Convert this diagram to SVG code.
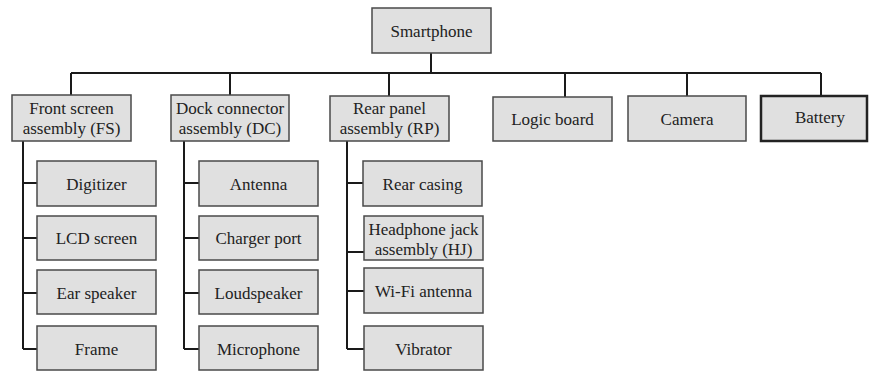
<svg xmlns="http://www.w3.org/2000/svg" width="869" height="371" viewBox="0 0 869 371">
<style>
.box{fill:#e0e0e0;stroke:#4a4a4a;stroke-width:1.5}
.thick{stroke:#222;stroke-width:2.5}
.t{font-family:'Liberation Serif','DejaVu Serif',serif;font-size:17px;fill:#222;text-anchor:middle}
.c{stroke:#1a1a1a;stroke-width:2;fill:none}
</style>
<rect width="869" height="371" fill="#fff"/>
<g id="connectors">
<path class="c" d="M431 53V73M71 73H821M71 73V95M230 73V95M389 73V96M565 73V97M687 73V96M821 73V96"/>
<path class="c" d="M23 141V349M23 183H37M23 238H37M23 293H37M23 349H37"/>
<path class="c" d="M184 141V349M184 183H199M184 238H199M184 293H199M184 349H199"/>
<path class="c" d="M347 141V349M347 183H363M347 252H364M347 291H364M347 349H364"/>
</g>
<g id="smartphone"><rect class="box" x="372" y="8" width="119" height="45"/><text class="t" x="431.5" y="36.5" font-family="Liberation Serif, serif">Smartphone</text></g>
<g id="fs"><rect class="box" x="12" y="95" width="119" height="46"/><text class="t" x="71.5" y="114">Front screen</text><text class="t" x="71.5" y="134">assembly (FS)</text></g>
<g id="dc"><rect class="box" x="171" y="95" width="118" height="46"/><text class="t" x="230" y="114">Dock connector</text><text class="t" x="230" y="134">assembly (DC)</text></g>
<g id="rp"><rect class="box" x="330" y="96" width="119" height="45"/><text class="t" x="389.5" y="114">Rear panel</text><text class="t" x="389.5" y="134">assembly (RP)</text></g>
<g id="logic"><rect class="box" x="493" y="97" width="119" height="44"/><text class="t" x="552.5" y="125">Logic board</text></g>
<g id="camera"><rect class="box" x="628" y="96" width="118" height="45"/><text class="t" x="687" y="124.5">Camera</text></g>
<g id="battery"><rect class="box thick" x="761" y="96" width="106" height="45"/><text class="t" x="820" y="123">Battery</text></g>
<g id="digitizer"><rect class="box" x="37" y="161" width="119" height="45"/><text class="t" x="96.5" y="189.5">Digitizer</text></g>
<g id="lcd"><rect class="box" x="37" y="216" width="119" height="44"/><text class="t" x="96.5" y="244">LCD screen</text></g>
<g id="ear"><rect class="box" x="37" y="270" width="119" height="44"/><text class="t" x="96.5" y="298.5">Ear speaker</text></g>
<g id="frame"><rect class="box" x="37" y="326" width="119" height="44"/><text class="t" x="96.5" y="354.5">Frame</text></g>
<g id="antenna"><rect class="box" x="199" y="161" width="119" height="45"/><text class="t" x="258.5" y="189.5">Antenna</text></g>
<g id="charger"><rect class="box" x="199" y="216" width="119" height="44"/><text class="t" x="258.5" y="244">Charger port</text></g>
<g id="loud"><rect class="box" x="199" y="270" width="119" height="44"/><text class="t" x="258.5" y="298.5">Loudspeaker</text></g>
<g id="mic"><rect class="box" x="199" y="326" width="119" height="44"/><text class="t" x="258.5" y="354.5">Microphone</text></g>
<g id="rearcasing"><rect class="box" x="363" y="161" width="119" height="45"/><text class="t" x="422.5" y="189.5">Rear casing</text></g>
<g id="hj"><rect class="box" x="364" y="216" width="119" height="44"/><text class="t" x="423.5" y="235">Headphone jack</text><text class="t" x="423.5" y="255">assembly (HJ)</text></g>
<g id="wifi"><rect class="box" x="364" y="268" width="119" height="45"/><text class="t" x="423.5" y="297">Wi-Fi antenna</text></g>
<g id="vibrator"><rect class="box" x="364" y="326" width="119" height="44"/><text class="t" x="423.5" y="354.5">Vibrator</text></g>
</svg>
